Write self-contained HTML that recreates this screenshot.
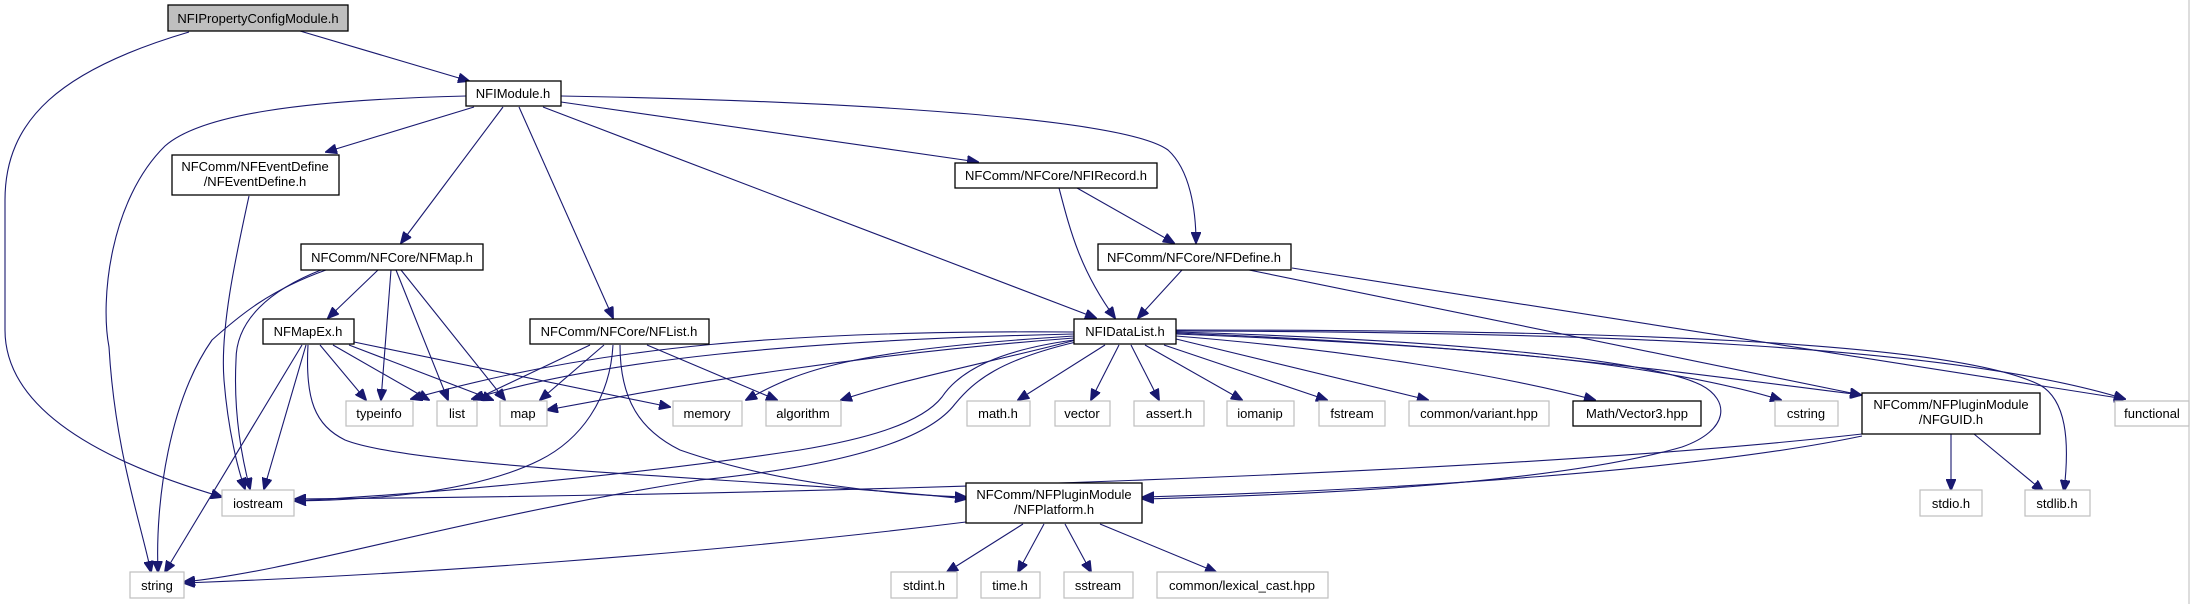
<!DOCTYPE html>
<html><head><meta charset="utf-8"><style>
html,body{margin:0;padding:0;background:#fff;}
svg{display:block;}
text{font-family:"Liberation Sans",sans-serif;font-size:13px;fill:#000;text-anchor:middle;}
.e{fill:none;stroke:#191970;stroke-width:1.1;marker-end:url(#a);}
.n{fill:#fff;stroke:#000;stroke-width:1.3;}
.g{fill:#fff;stroke:#bfbfbf;stroke-width:1.2;}
</style></head><body>
<svg width="2191" height="604" viewBox="0 0 2191 604" xmlns="http://www.w3.org/2000/svg">
<defs><marker id="a" markerWidth="12" markerHeight="10" refX="11" refY="5" orient="auto" markerUnits="userSpaceOnUse"><path d="M0,0 L12,5 L0,10 Z" fill="#191970" stroke="#191970"/></marker></defs>
<rect x="0" y="0" width="2191" height="604" fill="#fff"/>
<line x1="2189" y1="0" x2="2189" y2="604" stroke="#bbb"/>
<!-- edges -->
<path class="e" d="M300,31 L469,81"/>
<path class="e" d="M189,32 C60,70 5,120 5,200 L5,330 C5,420 130,470 222,497"/>
<path class="e" d="M466,96 C300,100 200,115 165,146 C110,200 100,300 109,347 C115,450 140,520 151,572"/>
<path class="e" d="M474,107 L326,152"/>
<path class="e" d="M503,107 L401,243"/>
<path class="e" d="M519,107 L613,318"/>
<path class="e" d="M543,107 L1096,318"/>
<path class="e" d="M561,102 L978,162"/>
<path class="e" d="M561,96 C800,100 1120,115 1168,150 C1190,170 1196,210 1196,243"/>
<path class="e" d="M249,196 C235,260 220,330 224,380 C228,430 238,470 245,489"/>
<path class="e" d="M326,270 C270,290 240,315 212,340 C170,400 155,500 158,572"/>
<path class="e" d="M321,270 C270,290 236,320 236,360 C233,420 245,470 250,489"/>
<path class="e" d="M378,270 L328,318"/>
<path class="e" d="M391,270 L381,400"/>
<path class="e" d="M396,270 L448,400"/>
<path class="e" d="M401,270 L505,400"/>
<path class="e" d="M320,345 L366,400"/>
<path class="e" d="M333,345 L429,400"/>
<path class="e" d="M349,345 L493,400"/>
<path class="e" d="M354,342 L670,407"/>
<path class="e" d="M302,345 L165,572"/>
<path class="e" d="M306,345 L264,489"/>
<path class="e" d="M308,345 C305,400 315,425 345,440 C420,470 800,480 966,499"/>
<path class="e" d="M590,345 L474,400"/>
<path class="e" d="M604,345 L540,400"/>
<path class="e" d="M647,345 L777,400"/>
<path class="e" d="M613,345 C610,400 580,440 540,460 C470,495 360,500 295,501"/>
<path class="e" d="M620,345 C620,400 640,430 680,450 C780,485 900,495 966,497"/>
<path class="e" d="M1059,188 C1070,230 1080,270 1115,318"/>
<path class="e" d="M1077,188 L1174,243"/>
<path class="e" d="M1182,270 L1138,318"/>
<path class="e" d="M1249,270 L1861,395"/>
<path class="e" d="M1292,268 L2125,399"/>
<!-- NFIDataList fan -->
<path class="e" d="M1074,332 C800,330 600,345 411,399"/>
<path class="e" d="M1074,334 C800,340 600,360 472,399"/>
<path class="e" d="M1074,338 C850,355 680,385 547,410"/>
<path class="e" d="M1074,336 C850,350 800,370 746,400"/>
<path class="e" d="M1076,340 C1000,360 900,380 841,400"/>
<path class="e" d="M1105,345 L1018,400"/>
<path class="e" d="M1119,345 L1091,400"/>
<path class="e" d="M1131,345 L1159,400"/>
<path class="e" d="M1145,345 L1242,400"/>
<path class="e" d="M1164,345 L1327,400"/>
<path class="e" d="M1176,339 L1428,400"/>
<path class="e" d="M1176,336 C1350,350 1500,375 1595,400"/>
<path class="e" d="M1176,334 C1450,345 1650,360 1781,400"/>
<path class="e" d="M1176,333 C1500,345 1700,375 1861,395"/>
<path class="e" d="M1176,331 C1600,332 1950,345 2125,399"/>
<path class="e" d="M1176,330 C1600,330 1950,340 2040,385 C2066,400 2070,440 2064,491"/>
<path class="e" d="M1074,340 C1000,350 960,370 942,397 C920,425 860,440 800,450 C600,480 400,495 295,501"/>
<path class="e" d="M1076,342 C1000,360 975,380 955,404 C920,450 800,470 700,480 C450,520 300,570 184,582"/>
<path class="e" d="M1176,332 C1450,340 1650,360 1701,385 C1730,400 1730,430 1682,447 C1550,485 1300,495 1143,499"/>
<path class="e" d="M1862,434 C1500,475 800,495 295,499"/>
<path class="e" d="M1862,436 C1700,470 1400,490 1143,497"/>
<path class="e" d="M1951,434 L1951,490"/>
<path class="e" d="M1974,434 L2043,491"/>
<path class="e" d="M1023,524 L947,572"/>
<path class="e" d="M1044,524 L1018,572"/>
<path class="e" d="M1065,524 L1091,572"/>
<path class="e" d="M1100,524 L1216,572"/>
<path class="e" d="M966,522 C700,555 400,575 184,583"/>
<!-- nodes -->
<rect x="168" y="5" width="180" height="26" fill="#bfbfbf" stroke="#000" stroke-width="1.3"/><text x="258" y="23">NFIPropertyConfigModule.h</text>
<rect class="n" x="466" y="81" width="95" height="25"/><text x="513" y="98">NFIModule.h</text>
<rect class="n" x="172" y="155" width="167" height="40"/><text x="255" y="171">NFComm/NFEventDefine</text><text x="255" y="186">/NFEventDefine.h</text>
<rect class="n" x="301" y="244" width="182" height="26"/><text x="392" y="262">NFComm/NFCore/NFMap.h</text>
<rect class="n" x="263" y="319" width="91" height="25"/><text x="308" y="336">NFMapEx.h</text>
<rect class="n" x="530" y="319" width="179" height="25"/><text x="619" y="336">NFComm/NFCore/NFList.h</text>
<rect class="n" x="955" y="163" width="202" height="25"/><text x="1056" y="180">NFComm/NFCore/NFIRecord.h</text>
<rect class="n" x="1098" y="244" width="193" height="26"/><text x="1194" y="262">NFComm/NFCore/NFDefine.h</text>
<rect class="n" x="1074" y="319" width="102" height="25"/><text x="1125" y="336">NFIDataList.h</text>
<rect class="g" x="346" y="401" width="67" height="25"/><text x="379" y="418">typeinfo</text>
<rect class="g" x="437" y="401" width="40" height="25"/><text x="457" y="418">list</text>
<rect class="g" x="500" y="401" width="47" height="25"/><text x="523" y="418">map</text>
<rect class="g" x="673" y="401" width="69" height="25"/><text x="707" y="418">memory</text>
<rect class="g" x="766" y="401" width="75" height="25"/><text x="803" y="418">algorithm</text>
<rect class="g" x="967" y="401" width="63" height="25"/><text x="998" y="418">math.h</text>
<rect class="g" x="1055" y="401" width="55" height="25"/><text x="1082" y="418">vector</text>
<rect class="g" x="1134" y="401" width="70" height="25"/><text x="1169" y="418">assert.h</text>
<rect class="g" x="1227" y="401" width="67" height="25"/><text x="1260" y="418">iomanip</text>
<rect class="g" x="1319" y="401" width="66" height="25"/><text x="1352" y="418">fstream</text>
<rect class="g" x="1409" y="401" width="140" height="25"/><text x="1479" y="418">common/variant.hpp</text>
<rect class="n" x="1573" y="401" width="128" height="25"/><text x="1637" y="418">Math/Vector3.hpp</text>
<rect class="g" x="1775" y="401" width="63" height="25"/><text x="1806" y="418">cstring</text>
<rect class="n" x="1862" y="393" width="178" height="41"/><text x="1951" y="409">NFComm/NFPluginModule</text><text x="1951" y="424">/NFGUID.h</text>
<rect class="g" x="2115" y="401" width="74" height="25"/><text x="2152" y="418">functional</text>
<rect class="g" x="222" y="490" width="72" height="26"/><text x="258" y="508">iostream</text>
<rect class="n" x="966" y="483" width="176" height="40"/><text x="1054" y="499">NFComm/NFPluginModule</text><text x="1054" y="514">/NFPlatform.h</text>
<rect class="g" x="1920" y="490" width="62" height="26"/><text x="1951" y="508">stdio.h</text>
<rect class="g" x="2025" y="490" width="65" height="26"/><text x="2057" y="508">stdlib.h</text>
<rect class="g" x="130" y="572" width="54" height="26"/><text x="157" y="590">string</text>
<rect class="g" x="891" y="572" width="66" height="26"/><text x="924" y="590">stdint.h</text>
<rect class="g" x="981" y="572" width="59" height="26"/><text x="1010" y="590">time.h</text>
<rect class="g" x="1064" y="572" width="69" height="26"/><text x="1098" y="590">sstream</text>
<rect class="g" x="1157" y="572" width="171" height="26"/><text x="1242" y="590">common/lexical_cast.hpp</text>
</svg>
</body></html>
